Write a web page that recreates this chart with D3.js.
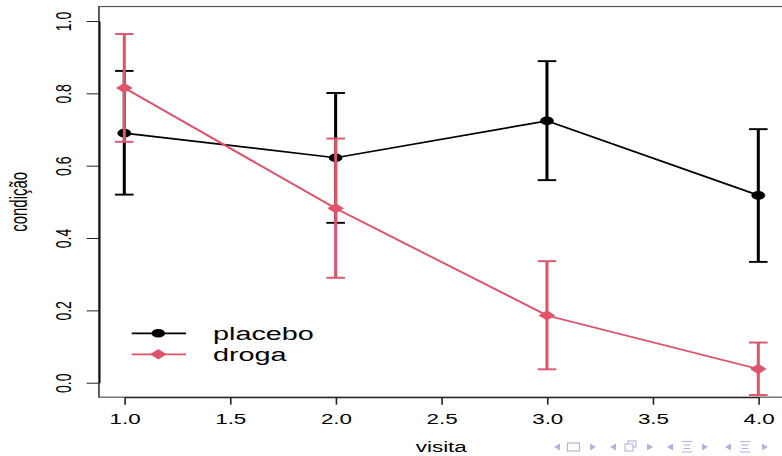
<!DOCTYPE html>
<html>
<head>
<meta charset="utf-8">
<script src="https://cdn.jsdelivr.net/npm/d3@7"></script>
<style>
  body { margin: 0; background: #fff; }
  svg { display: block; font-family: "Liberation Sans", Arial, Helvetica, sans-serif; }
</style>
</head>
<body>
<svg id="drawing_region"></svg>
<script>
// visitas e medias com intervalos
const visitas = [1, 2, 3, 4];
const placebo_mean = [0.690, 0.622, 0.724, 0.518];
const placebo_low  = [0.520, 0.442, 0.560, 0.334];
const placebo_high = [0.862, 0.801, 0.889, 0.701];
const droga_mean = [0.815, 0.482, 0.186, 0.038];
const droga_low  = [0.666, 0.290, 0.037, -0.034];
const droga_high = [0.964, 0.675, 0.336, 0.111];
const series_names = ['placebo', 'droga'];
const xticks = [1.0, 1.5, 2.0, 2.5, 3.0, 3.5, 4.0];
const yticks = [0.0, 0.2, 0.4, 0.6, 0.8, 1.0];

const W = 782, H = 456;
const sx = 1.6;   // the slide image is stretched horizontally
const black = '#000000', red = '#DF536B';

const series = [
    { name: series_names[0], color: black, shape: 'circle',
      values: visitas.map((v, i) => ({ x: v, y: placebo_mean[i], lo: placebo_low[i], hi: placebo_high[i] })) },
    { name: series_names[1], color: red, shape: 'diamond',
      values: visitas.map((v, i) => ({ x: v, y: droga_mean[i], lo: droga_low[i], hi: droga_high[i] })) }
];

const svg = d3.select('#drawing_region')
    .attr('width', W)
    .attr('height', H);

svg.append('rect').attr('width', W).attr('height', H).attr('fill', '#fff');

const chart = svg.append('g')
    .attr('transform', `scale(${sx},1)`);

const xscale = d3.scaleLinear()
    .domain([1, 4])
    .range([124.3 / sx, 758.3 / sx]);

const yscale = d3.scaleLinear()
    .domain([0, 1])
    .range([382.7, 21]);

// box (usr region, 4% extension)
const x0 = xscale(0.88), x1 = xscale(4.12);
const y0 = yscale(-0.04), y1 = yscale(1.04);
chart.append('rect')
    .attr('x', x0).attr('y', y1)
    .attr('width', x1 - x0).attr('height', y0 - y1)
    .attr('fill', 'none')
    .attr('stroke', '#555')
    .attr('stroke-width', 1.2);

// x axis
const xaxis = d3.axisBottom(xscale)
    .tickValues(xticks)
    .tickFormat(d3.format('.1f'))
    .tickSize(7.5)
    .tickPadding(9)
    .tickSizeOuter(0);

const xaxis_group = chart.append('g')
    .attr('transform', `translate(0, ${y0})`)
    .call(xaxis);
xaxis_group.select('.domain').attr('stroke', '#222').attr('stroke-width', 1.2);
xaxis_group.selectAll('line').attr('stroke', '#222').attr('stroke-width', 1);
xaxis_group.selectAll('text')
    .attr('font-size', 14)
    .attr('font-family', '"Liberation Sans", Arial, sans-serif')
    .attr('fill', '#000');

// y axis
const yaxis = d3.axisLeft(yscale)
    .tickValues(yticks)
    .tickFormat(d3.format('.1f'))
    .tickSize(7.7)
    .tickSizeOuter(0);

const yaxis_group = chart.append('g')
    .attr('transform', `translate(${x0}, 0)`)
    .call(yaxis);
yaxis_group.select('.domain').attr('stroke', '#111').attr('stroke-width', 1);
yaxis_group.selectAll('line').attr('stroke', '#222').attr('stroke-width', 1);
// rotated tick labels, centred on each tick
yaxis_group.selectAll('.tick text')
    .attr('font-size', 14)
    .attr('font-family', '"Liberation Sans", Arial, sans-serif')
    .attr('fill', '#000')
    .attr('x', 0).attr('y', 0).attr('dy', 0)
    .attr('text-anchor', 'middle')
    .attr('dominant-baseline', 'central')
    .attr('transform', `translate(${39.5 - x0}, 0) rotate(-90)`);

// axis titles
chart.append('text')
    .attr('x', xscale(2.5))
    .attr('y', 452)
    .attr('text-anchor', 'middle')
    .attr('font-size', 14)
    .text('visita');

chart.append('text')
    .attr('transform', `translate(${11.5}, ${yscale(0.5)}) rotate(-90)`)
    .attr('text-anchor', 'middle')
    .attr('dominant-baseline', 'central')
    .attr('font-size', 15)
    .text('condição');

// error bars, lines and points
const capw = 5.8;
const line = d3.line()
    .x(d => xscale(d.x))
    .y(d => yscale(d.y));

const diamond = (cx, cy, rx, ry) =>
    `M${cx},${cy - ry}L${cx + rx},${cy}L${cx},${cy + ry}L${cx - rx},${cy}Z`;

series.forEach(s => {
    const g = chart.append('g');

    g.append('path')
        .datum(s.values)
        .attr('d', line)
        .attr('fill', 'none')
        .attr('stroke', s.color)
        .attr('stroke-width', 1.7);

    const bars = g.selectAll('.bar')
        .data(s.values)
        .join('g');
    bars.append('line')
        .attr('x1', d => xscale(d.x)).attr('x2', d => xscale(d.x))
        .attr('y1', d => yscale(d.lo)).attr('y2', d => yscale(d.hi))
        .attr('stroke', s.color).attr('stroke-width', 1.9);
    bars.append('line')
        .attr('x1', d => xscale(d.x) - capw).attr('x2', d => xscale(d.x) + capw)
        .attr('y1', d => yscale(d.hi)).attr('y2', d => yscale(d.hi))
        .attr('stroke', s.color).attr('stroke-width', 1.9);
    bars.append('line')
        .attr('x1', d => xscale(d.x) - capw).attr('x2', d => xscale(d.x) + capw)
        .attr('y1', d => yscale(d.lo)).attr('y2', d => yscale(d.lo))
        .attr('stroke', s.color).attr('stroke-width', 1.9);

    if (s.shape === 'circle') {
        g.selectAll('.pt')
            .data(s.values)
            .join('circle')
            .attr('cx', d => xscale(d.x))
            .attr('cy', d => yscale(d.y))
            .attr('r', 4.3)
            .attr('fill', s.color);
    } else {
        g.selectAll('.pt')
            .data(s.values)
            .join('path')
            .attr('d', d => diamond(xscale(d.x), yscale(d.y), 5.2, 5.2))
            .attr('fill', s.color);
    }
});

// legend
const legend = chart.append('g');
series.forEach((s, i) => {
    const ly = 333.3 + i * 21;
    legend.append('line')
        .attr('x1', 131.7 / sx).attr('x2', 186 / sx)
        .attr('y1', ly).attr('y2', ly)
        .attr('stroke', s.color).attr('stroke-width', 1.7);
    if (s.shape === 'circle') {
        legend.append('circle')
            .attr('cx', 158.3 / sx).attr('cy', ly).attr('r', 4.3)
            .attr('fill', s.color);
    } else {
        legend.append('path')
            .attr('d', diamond(158.3 / sx, ly, 5.2, 5.2))
            .attr('fill', s.color);
    }
    legend.append('text')
        .attr('x', 213 / sx)
        .attr('y', ly)
        .attr('dominant-baseline', 'central')
        .attr('font-size', 18)
        .text(s.name);
});

// beamer navigation symbols
const nav = svg.append('g')
    .attr('fill', '#b3b3dd')
    .attr('stroke', '#b3b3dd');
const ny = 447;
const tri = (cx, dir) => `M${cx + 3 * dir},${ny - 3.5}L${cx - 3 * dir},${ny}L${cx + 3 * dir},${ny + 3.5}Z`;
[[557, 1], [593, -1], [613, 1], [650, -1], [670, 1], [705, -1], [728, 1], [765, -1]].forEach(([cx, dir]) => {
    nav.append('path').attr('d', tri(cx, dir)).attr('stroke', 'none');
});
nav.append('rect').attr('x', 567.5).attr('y', 443).attr('width', 12).attr('height', 8)
    .attr('fill', 'none').attr('stroke-width', 1.2);
nav.append('rect').attr('x', 628).attr('y', 441).attr('width', 8).attr('height', 6)
    .attr('fill', 'none').attr('stroke-width', 1.1);
nav.append('rect').attr('x', 625).attr('y', 444).attr('width', 8).attr('height', 7)
    .attr('fill', '#fff').attr('stroke-width', 1.1);
[687, 745].forEach(cx => {
    [441.5, 445, 448.5, 452].forEach((yy, k) => {
        nav.append('line')
            .attr('x1', cx - (k % 3 === 0 ? 5 : 3.5)).attr('x2', cx + (k % 3 === 0 ? 5 : 3.5))
            .attr('y1', yy).attr('y2', yy)
            .attr('stroke-width', 1.1);
    });
});
</script>
</body>
</html>
